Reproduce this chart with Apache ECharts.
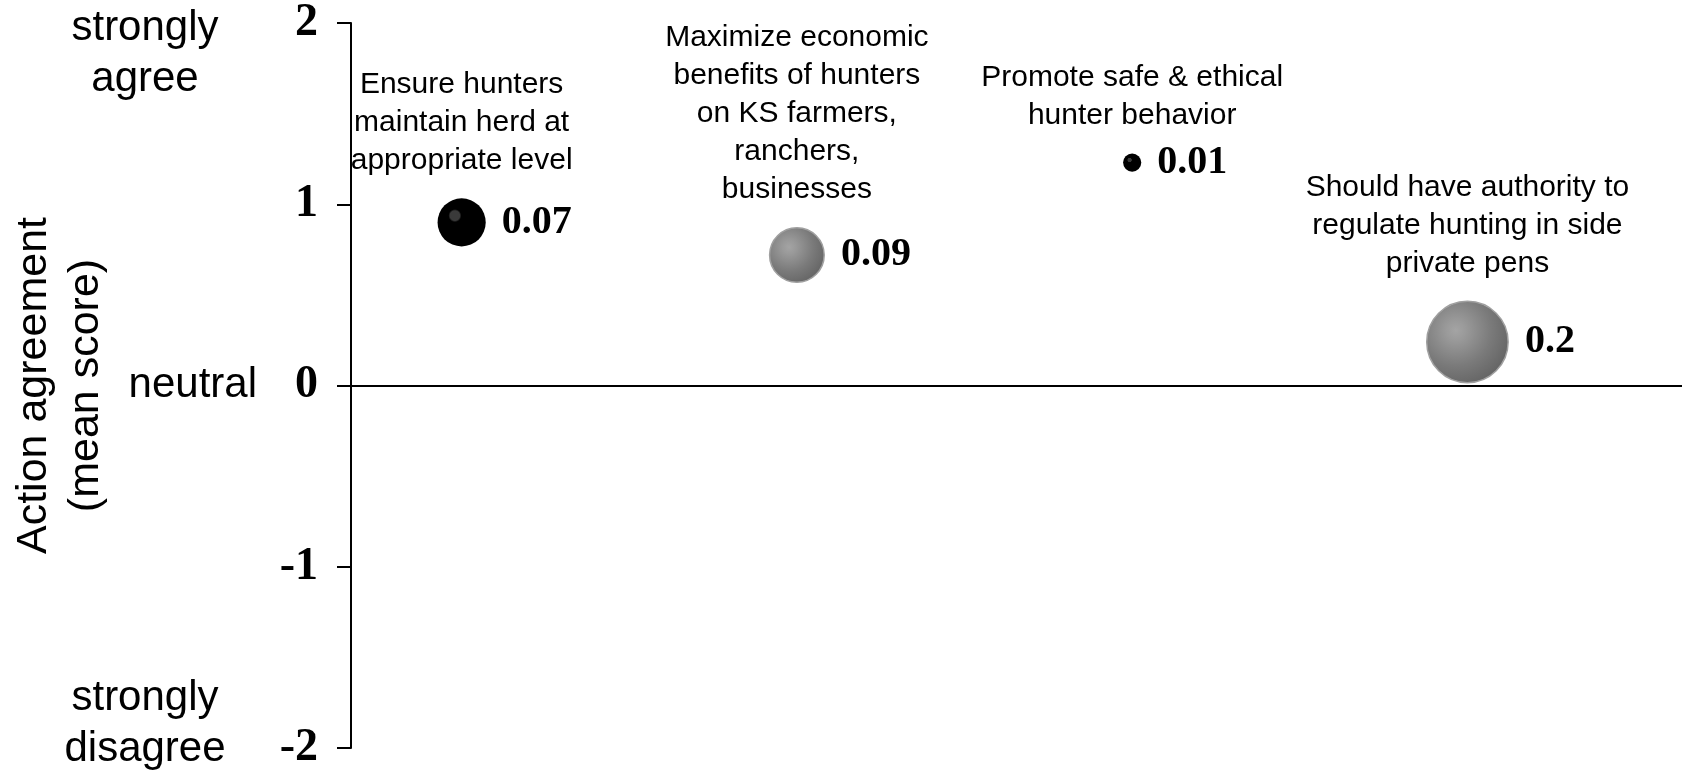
<!DOCTYPE html>
<html>
<head>
<meta charset="utf-8">
<script src="https://cdn.jsdelivr.net/npm/echarts@6/dist/echarts.min.js"></script>
<style>
html,body{margin:0;padding:0;background:#fff;}
#chart{width:1682px;height:777px;}
</style>
</head>
<body>
<div id="chart"></div>
<script>
// ---- data ----
var categories = [
  "Ensure hunters\nmaintain herd at\nappropriate level",
  "Maximize economic\nbenefits of hunters\non KS farmers,\nranchers,\nbusinesses",
  "Promote safe & ethical\nhunter behavior",
  "Should have authority to\nregulate hunting in side\nprivate pens"
];
var meanScores = [0.90, 0.72, 1.23, 0.24];
var effectSizes = [0.07, 0.09, 0.01, 0.2];
var effectLabels = ["0.07", "0.09", "0.01", "0.2"];
var shading = ["dark", "gray", "dark", "gray"];
var yTicks = [-2, -1, 0, 1, 2];
var anchorLabels = {top: "strongly\nagree", middle: "neutral", bottom: "strongly\ndisagree"};
var yTitle = "Action agreement\n(mean score)";

// ---- styles ----
var sansFont = "'Liberation Sans', Arial, Helvetica, sans-serif";
var serifFont = "'Liberation Serif', 'Times New Roman', serif";
function bubbleSize(v){ return 182 * Math.sqrt(v); }
function fillFor(kind){
  if (kind === 'dark') {
    return {type:'radial', x:0.36, y:0.36, r:0.5, colorStops:[
      {offset:0, color:'#3a3a3a'},{offset:0.2, color:'#3a3a3a'},
      {offset:0.27, color:'#000'},{offset:1, color:'#000'}]};
  }
  return {type:'radial', x:0.36, y:0.36, r:0.78, colorStops:[
    {offset:0, color:'#a4a4a4'},{offset:0.15, color:'#9a9a9a'},
    {offset:0.35, color:'#8a8a8a'},{offset:0.55, color:'#7a7a7a'},
    {offset:0.8, color:'#6a6a6a'},{offset:1, color:'#5e5e5e'}]};
}

var bubbleData = categories.map(function(c, i){
  return {
    name: c,
    value: [i + 1, meanScores[i], effectSizes[i]],
    itemStyle: {
      color: fillFor(shading[i]),
      opacity: 1,
      borderColor: shading[i] === 'dark' ? '#000' : '#a0a0a0',
      borderWidth: shading[i] === 'dark' ? 0 : 1.5
    },
    label: {formatter: effectLabels[i]}
  };
});
var nameData = categories.map(function(c, i){
  return {name: c, value: [i + 1, meanScores[i], effectSizes[i]]};
});

var chart = echarts.init(document.getElementById('chart'), null, {renderer:'canvas'});
var option = {
  animation: false,
  backgroundColor: '#fff',
  grid: {left: 351, right: 0, top: 23, bottom: 29, containLabel: false},
  xAxis: {
    type: 'value', min: 0.67, max: 4.64,
    axisLine: {show: true, onZero: true, lineStyle: {color: '#000', width: 2}},
    axisTick: {show: false}, axisLabel: {show: false}, splitLine: {show: false}
  },
  yAxis: {
    type: 'value', min: -2, max: 2, interval: 1,
    axisLine: {show: true, lineStyle: {color: '#000', width: 2}},
    axisTick: {show: true, length: 14, lineStyle: {color: '#000', width: 2}},
    axisLabel: {
      margin: 33, color: '#000', fontFamily: serifFont, fontWeight: 'bold', fontSize: 46,
      formatter: function(v){ return yTicks.indexOf(v) >= 0 ? String(v) : ''; }
    },
    splitLine: {show: false}
  },
  series: [
    {
      type: 'scatter',
      data: bubbleData,
      symbolSize: function(v){ return bubbleSize(v[2]); },
      label: {
        show: true, position: 'right', distance: 16,
        color: '#000', fontFamily: serifFont, fontWeight: 'bold', fontSize: 40
      },
      z: 3
    },
    {
      type: 'scatter',
      data: nameData,
      symbolSize: function(v){ return bubbleSize(v[2]); },
      itemStyle: {color: 'rgba(0,0,0,0)', opacity: 1},
      silent: true,
      label: {
        show: true, position: 'top', distance: 19,
        formatter: function(p){ return p.name; },
        color: '#000', fontFamily: sansFont, fontSize: 30, lineHeight: 38, align: 'center'
      },
      labelLayout: {hideOverlap: false},
      z: 2
    }
  ]
};
chart.setOption(option);

var yTop = chart.convertToPixel({yAxisIndex: 0}, 2);
var yMid = chart.convertToPixel({yAxisIndex: 0}, 0);
var yBot = chart.convertToPixel({yAxisIndex: 0}, -2);
chart.setOption({
  graphic: [
    {type:'text', x: 145, y: yTop + 31,
     style: {text: anchorLabels.top, fill:'#000', font: '42px ' + sansFont, lineHeight: 51,
             textAlign:'center', textVerticalAlign:'middle'}},
    {type:'text', x: 257, y: yMid,
     style: {text: anchorLabels.middle, fill:'#000', font: '42px ' + sansFont,
             textAlign:'right', textVerticalAlign:'middle'}},
    {type:'text', x: 145, y: yBot - 24,
     style: {text: anchorLabels.bottom, fill:'#000', font: '42px ' + sansFont, lineHeight: 51,
             textAlign:'center', textVerticalAlign:'middle'}},
    {type:'text', x: 60, y: yMid, rotation: Math.PI / 2,
     style: {text: yTitle, fill:'#000', font: "43px " + sansFont,
             lineHeight: 52, textAlign:'center', textVerticalAlign:'middle'}}
  ]
});
</script>
</body>
</html>
